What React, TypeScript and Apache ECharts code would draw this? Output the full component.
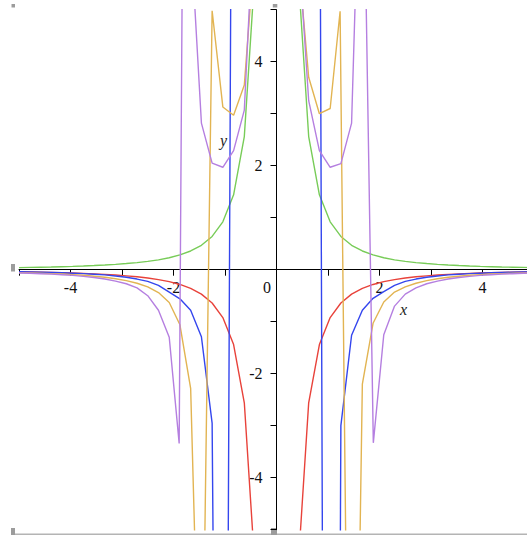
import React, { useEffect, useRef } from "react";
import * as echarts from "echarts";

// sample abscissae shared by the green, red and blue curves
const gridX = [-5, -4.792, -4.583, -4.375, -4.167, -3.958, -3.75, -3.542, -3.333, -3.125, -2.917, -2.708, -2.5, -2.292, -2.083, -1.875, -1.667, -1.458, -1.25, -1.042, -0.833, -0.625, -0.417, -0.208,
  0.208, 0.417, 0.625, 0.833, 1.042, 1.25, 1.458, 1.667, 1.875, 2.083, 2.292, 2.5, 2.708, 2.917, 3.125, 3.333, 3.542, 3.75, 3.958, 4.167, 4.375, 4.583, 4.792, 5];

const greenY = [0.04, 0.044, 0.048, 0.052, 0.058, 0.064, 0.071, 0.08, 0.09, 0.102, 0.118, 0.136, 0.16, 0.19, 0.23, 0.284, 0.36, 0.47, 0.64, 0.92, 1.44, 2.56, 5.76, 23.04,
  23.04, 5.76, 2.56, 1.44, 0.92, 0.64, 0.47, 0.36, 0.284, 0.23, 0.19, 0.16, 0.136, 0.118, 0.102, 0.09, 0.08, 0.071, 0.064, 0.058, 0.052, 0.048, 0.044, 0.04];

const redY = [-0.04, -0.044, -0.048, -0.052, -0.058, -0.064, -0.071, -0.08, -0.09, -0.102, -0.118, -0.136, -0.16, -0.19, -0.23, -0.284, -0.36, -0.47, -0.64, -0.92, -1.44, -2.56, -5.76, -23.04,
  -23.04, -5.76, -2.56, -1.44, -0.92, -0.64, -0.47, -0.36, -0.284, -0.23, -0.19, -0.16, -0.136, -0.118, -0.102, -0.09, -0.08, -0.071, -0.064, -0.058, -0.052, -0.048, -0.044, -0.04];

const blueY = [-0.04, -0.044, -0.049, -0.054, -0.06, -0.067, -0.076, -0.087, -0.1, -0.12, -0.145, -0.18, -0.225, -0.3, -0.43, -0.56, -0.78, -1.29, -2.95, -28, 17.4, 20, 40, 60,
  60, 40, 20, 10.8, -47, -3.0, -1.26, -0.78, -0.55, -0.42, -0.3, -0.225, -0.18, -0.145, -0.12, -0.1, -0.087, -0.076, -0.067, -0.06, -0.054, -0.049, -0.044, -0.04];

const yellowX = [-5, -4.792, -4.583, -4.375, -4.167, -3.958, -3.75, -3.542, -3.333, -3.125, -2.917, -2.708, -2.5, -2.292, -2.083, -1.875, -1.667, -1.458, -1.25, -1.042, -0.833, -0.625, -0.417, -0.208,
  0.208, 0.417, 0.625, 0.833, 1.042, 1.235, 1.458, 1.667, 1.875, 2.083, 2.292, 2.5, 2.708, 2.917, 3.125, 3.333, 3.542, 3.75, 3.958, 4.167, 4.375, 4.583, 4.792, 5];
const yellowY = [-0.056, -0.061, -0.068, -0.075, -0.084, -0.095, -0.108, -0.125, -0.145, -0.175, -0.21, -0.26, -0.33, -0.44, -0.63, -1.06, -2.28, -9.86, 4.98, 3.13, 2.97, 3.55, 6.29, 40,
  40, 6.05, 3.7, 3.0, 3.1, 4.97, -15.8, -2.2, -1.03, -0.62, -0.43, -0.33, -0.26, -0.21, -0.175, -0.145, -0.125, -0.108, -0.095, -0.084, -0.075, -0.068, -0.061, -0.056];

const purpleX = [-5, -4.792, -4.583, -4.375, -4.167, -3.958, -3.75, -3.542, -3.333, -3.125, -2.917, -2.708, -2.5, -2.292, -2.083, -1.89, -1.828, -1.65, -1.458, -1.25, -1.042, -0.833, -0.625, -0.417, -0.208,
  0.208, 0.417, 0.625, 0.833, 1.042, 1.25, 1.458, 1.58, 1.72, 1.88, 2.083, 2.292, 2.5, 2.708, 2.917, 3.125, 3.333, 3.542, 3.75, 3.958, 4.167, 4.375, 4.583, 4.792, 5];
const purpleY = [-0.063, -0.069, -0.077, -0.086, -0.097, -0.11, -0.128, -0.15, -0.18, -0.22, -0.27, -0.35, -0.5, -0.78, -1.3, -3.34, 6, 6.17, 2.82, 2.05, 1.97, 2.29, 3.07, 7.3, 50,
  50, 6.4, 3.25, 2.29, 1.97, 2.04, 2.82, 6.9, 6.4, -3.33, -1.25, -0.7, -0.47, -0.35, -0.27, -0.22, -0.18, -0.15, -0.128, -0.11, -0.097, -0.086, -0.077, -0.069, -0.063];

const tickLabels = [-4, -2, 2, 4];

const FONT = "'Liberation Serif', 'Times New Roman', serif";

function zip(xs: number[], ys: number[]) {
  return xs.map((x, i) => [x, ys[i]]);
}

const GRID_LEFT = 19;
const GRID_TOP = 9.7;
const GRID_W = 515;
const GRID_H = 520;

export default function App() {
  const ref = useRef<HTMLDivElement>(null);
  useEffect(() => {
    if (!ref.current) return;
    const chart = echarts.init(ref.current, undefined, { renderer: "svg" });
    const fmt = (v: number) => (tickLabels.indexOf(v) >= 0 ? String(v) : "");
    const mk = (name: string, data: number[][], color: string) => ({
      name,
      type: "line",
      data,
      showSymbol: false,
      symbol: "none",
      clip: true,
      lineStyle: { color, width: 1.4 },
      z: 3,
    });
    const handle = "#9c9c9c";
    chart.setOption({
      animation: false,
      backgroundColor: "#ffffff",
      grid: {
        left: GRID_LEFT,
        top: GRID_TOP,
        width: GRID_W,
        height: GRID_H,
        containLabel: false,
        outerBoundsMode: "none",
      },
      xAxis: {
        type: "value",
        position: "bottom",
        offset: -GRID_H / 2,
        min: -5,
        max: 5,
        interval: 1,
        splitLine: { show: false },
        axisLine: { onZero: false, lineStyle: { color: "#000", width: 1 } },
        axisTick: { length: 6, lineStyle: { color: "#000", width: 1 } },
        axisLabel: { formatter: fmt, margin: 10, fontFamily: FONT, fontSize: 16, color: "#111" },
      },
      yAxis: {
        type: "value",
        position: "left",
        offset: -GRID_W / 2,
        min: -5,
        max: 5,
        interval: 1,
        splitLine: { show: false },
        axisLine: { onZero: false, lineStyle: { color: "#000", width: 1 } },
        axisTick: { length: 6, lineStyle: { color: "#000", width: 1 } },
        axisLabel: { formatter: fmt, margin: 14, fontFamily: FONT, fontSize: 16, color: "#111" },
      },
      series: [
        mk("green", zip(gridX, greenY), "#78cc58"),
        mk("red", zip(gridX, redY), "#e8423a"),
        mk("blue", zip(gridX, blueY), "#3446ee"),
        mk("yellow", zip(yellowX, yellowY), "#e2b452"),
        mk("purple", zip(purpleX, purpleY), "#b57fe0"),
      ],
      graphic: [
        { type: "text", left: 263, top: 279, style: { text: "0", font: `16px ${FONT}`, fill: "#111" } },
        { type: "text", left: 400, top: 301, style: { text: "x", font: `italic 16px ${FONT}`, fill: "#222" } },
        { type: "text", left: 220, top: 132, style: { text: "y", font: `italic 16px ${FONT}`, fill: "#222" } },
        { type: "rect", shape: { x: 15, y: 533.5, width: 530, height: 1.6 }, style: { fill: "#b4b4b4" } },
        { type: "rect", shape: { x: 11.5, y: 4, width: 3.5, height: 3.5 }, style: { fill: handle } },
        { type: "rect", shape: { x: 272.8, y: 4, width: 4.5, height: 3.5 }, style: { fill: handle } },
        { type: "rect", shape: { x: 11, y: 264, width: 4, height: 7.5 }, style: { fill: handle } },
        { type: "rect", shape: { x: 11, y: 528, width: 4, height: 7 }, style: { fill: handle } },
        { type: "rect", shape: { x: 271, y: 528, width: 6, height: 7 }, style: { fill: handle } },
      ],
    });
    return () => chart.dispose();
  }, []);
  return (
    <div
      ref={ref}
      style={{ position: "fixed", left: 0, top: 0, width: 535, height: 537, background: "#fff" }}
    />
  );
}
